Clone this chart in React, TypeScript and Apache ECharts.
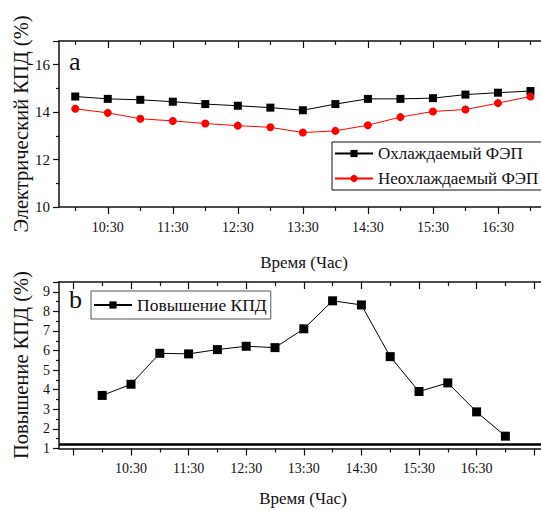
import React, { useEffect, useRef } from "react";
import * as echarts from "echarts";

// ---- data ----
const times = ["10:00", "10:30", "11:00", "11:30", "12:00", "12:30", "13:00", "13:30", "14:00", "14:30", "15:00", "15:30", "16:00", "16:30", "17:00"];
const cooledEff = [14.66, 14.56, 14.52, 14.44, 14.34, 14.27, 14.19, 14.08, 14.34, 14.56, 14.56, 14.59, 14.74, 14.82, 14.89];
const uncooledEff = [14.14, 13.97, 13.72, 13.63, 13.52, 13.43, 13.36, 13.14, 13.21, 13.45, 13.79, 14.03, 14.11, 14.38, 14.66];
const effGain = [3.71, 4.28, 5.86, 5.83, 6.05, 6.22, 6.15, 7.11, 8.54, 8.33, 5.69, 3.91, 4.35, 2.87, 1.63];
const gainRefLine = 1.24;

const xLabelTicks = ["10:30", "11:30", "12:30", "13:30", "14:30", "15:30", "16:30"];
const topLongTicks = ["10:30", "11:30", "12:30", "13:30", "14:30", "15:30", "16:30", "17:30"];
const topShortTicks = ["10:00", "11:00", "12:00", "13:00", "14:00", "15:00", "16:00", "17:00"];
const botLongTicks = ["9:30", "10:30", "11:30", "12:30", "13:30", "14:30", "15:30", "16:30", "17:30"];
const botShortTicks = ["10:00", "11:00", "12:00", "13:00", "14:00", "15:00", "16:00", "17:00"];
const topRange = ["9:45", "17:30"];
const botRange = ["9:15", "18:00"];

const nameCooled = "Охлаждаемый ФЭП";
const nameUncooled = "Неохлаждаемый ФЭП";
const nameGain = "Повышение КПД";

const FONT = "Liberation Serif, Times New Roman, serif";
const INK = "#111";

const toMin = (t: string) => {
  const [h, m] = t.split(":").map(Number);
  return h * 60 + m;
};
const fmt = (v: number) => {
  const h = Math.floor(v / 60);
  const m = Math.round(v - h * 60);
  return `${h}:${String(m).padStart(2, "0")}`;
};

function makeXAxes(grid: number, range: string[], longT: string[], shortT: string[]) {
  const min = toMin(range[0]);
  const max = toMin(range[1]);
  const base = { gridIndex: grid, type: "value", min, max, splitLine: { show: false } };
  const tickStyle = { color: INK, width: 1.2 };
  return [
    {
      ...base,
      position: "bottom",
      axisLine: { show: true, onZero: false, lineStyle: { color: INK, width: 1.5 } },
      axisTick: { show: true, inside: false, length: 7, customValues: longT.map(toMin), lineStyle: tickStyle },
      axisLabel: {
        show: true,
        customValues: xLabelTicks.map(toMin),
        formatter: (v: number) => fmt(v),
        margin: 13,
        fontSize: 14,
        fontFamily: FONT,
        color: INK,
      },
    },
    {
      ...base,
      position: "bottom",
      axisLine: { show: false, onZero: false },
      axisTick: { show: true, inside: false, length: 4, customValues: shortT.map(toMin), lineStyle: tickStyle },
      axisLabel: { show: false },
    },
    {
      ...base,
      position: "top",
      axisLine: { show: true, onZero: false, lineStyle: { color: INK, width: 1.5 } },
      axisTick: { show: true, inside: true, length: 7, customValues: longT.map(toMin), lineStyle: tickStyle },
      axisLabel: { show: false },
    },
    {
      ...base,
      position: "top",
      axisLine: { show: false, onZero: false },
      axisTick: { show: true, inside: true, length: 4, customValues: shortT.map(toMin), lineStyle: tickStyle },
      axisLabel: { show: false },
    },
  ];
}

export default function App() {
  const ref = useRef<HTMLDivElement>(null);
  useEffect(() => {
    if (!ref.current) return;
    const chart = echarts.init(ref.current, undefined, { renderer: "svg" });
    const xAxes = [
      ...makeXAxes(0, topRange, topLongTicks, topShortTicks),
      ...makeXAxes(1, botRange, botLongTicks, botShortTicks),
    ];
    const option: any = {
      animation: false,
      backgroundColor: "#fff",
      grid: [
        { left: 59, top: 41, width: 504, height: 166, containLabel: false, outerBoundsMode: "none" },
        { left: 59, top: 282, width: 504, height: 166.5, containLabel: false, outerBoundsMode: "none" },
      ],
      xAxis: xAxes,
      yAxis: [
        {
          gridIndex: 0,
          type: "value",
          min: 10,
          max: 17,
          interval: 2,
          axisLine: { show: true, lineStyle: { color: INK, width: 1.5 } },
          axisTick: { show: true, inside: false, length: 6, lineStyle: { color: INK, width: 1.2 } },
          minorTick: { show: true, splitNumber: 2, length: 3, lineStyle: { color: INK, width: 1.2 } },
          axisLabel: {
            formatter: (v: number) => (v % 2 === 0 ? String(v) : ""),
            margin: 9,
            fontSize: 15,
            fontFamily: FONT,
            color: INK,
          },
          splitLine: { show: false },
        },
        {
          gridIndex: 1,
          type: "value",
          min: 1,
          max: 9.5,
          interval: 1,
          axisLine: { show: true, lineStyle: { color: INK, width: 1.5 } },
          axisTick: { show: true, inside: false, length: 6, lineStyle: { color: INK, width: 1.2 } },
          minorTick: { show: true, splitNumber: 2, length: 3, lineStyle: { color: INK, width: 1.2 } },
          axisLabel: {
            formatter: (v: number) => (Number.isInteger(v) ? String(v) : ""),
            margin: 9,
            fontSize: 14,
            fontFamily: FONT,
            color: INK,
          },
          splitLine: { show: false },
        },
      ],
      legend: [
        {
          data: [nameCooled, nameUncooled],
          orient: "vertical",
          left: 332,
          top: 142,
          padding: [3, 30, 3, 2],
          borderColor: INK,
          borderWidth: 1,
          itemWidth: 38,
          itemHeight: 9,
          itemGap: 8,
          textStyle: { fontFamily: FONT, fontSize: 17, color: INK },
        },
        {
          data: [nameGain],
          left: 91,
          top: 291,
          padding: [5, 4, 5, 2],
          borderColor: "#555",
          borderWidth: 1,
          itemWidth: 38,
          itemHeight: 9,
          textStyle: { fontFamily: FONT, fontSize: 17.5, color: INK },
        },
      ],
      series: [
        {
          name: nameCooled,
          type: "line",
          xAxisIndex: 0,
          yAxisIndex: 0,
          data: times.map((t, i) => [toMin(t), cooledEff[i]]),
          symbol: "rect",
          symbolSize: 8,
          color: "#000",
          lineStyle: { color: "#000", width: 1 },
          itemStyle: { color: "#000" },
        },
        {
          name: nameUncooled,
          type: "line",
          xAxisIndex: 0,
          yAxisIndex: 0,
          data: times.map((t, i) => [toMin(t), uncooledEff[i]]),
          symbol: "circle",
          symbolSize: 8,
          color: "#ff0000",
          lineStyle: { color: "#ff0000", width: 1 },
          itemStyle: { color: "#ff0000" },
        },
        {
          name: nameGain,
          type: "line",
          xAxisIndex: 4,
          yAxisIndex: 1,
          data: times.map((t, i) => [toMin(t), effGain[i]]),
          symbol: "rect",
          symbolSize: 9,
          color: "#000",
          lineStyle: { color: "#000", width: 1 },
          itemStyle: { color: "#000" },
          markLine: {
            silent: true,
            symbol: ["none", "none"],
            label: { show: false },
            lineStyle: { color: "#000", width: 2.5, type: "solid" },
            data: [{ yAxis: gainRefLine }],
          },
        },
      ],
      graphic: [
        { type: "text", left: 69, top: 48, style: { text: "a", fontFamily: FONT, fontSize: 26, fill: INK } },
        { type: "text", left: 69, top: 286, style: { text: "b", fontFamily: FONT, fontSize: 26, fill: INK } },
        {
          type: "text",
          x: 21,
          y: 124,
          rotation: Math.PI / 2,
          style: { text: "Электрический КПД (%)", fontFamily: FONT, fontSize: 20.5, fill: INK, align: "center", verticalAlign: "middle" },
        },
        {
          type: "text",
          x: 21,
          y: 365,
          rotation: Math.PI / 2,
          style: { text: "Повышение КПД (%)", fontFamily: FONT, fontSize: 20.5, fill: INK, align: "center", verticalAlign: "middle" },
        },
        {
          type: "text",
          x: 304,
          y: 262,
          style: { text: "Время (Час)", fontFamily: FONT, fontSize: 17, fill: INK, align: "center", verticalAlign: "middle" },
        },
        {
          type: "text",
          x: 303,
          y: 498,
          style: { text: "Время (Час)", fontFamily: FONT, fontSize: 17, fill: INK, align: "center", verticalAlign: "middle" },
        },
      ],
    };
    chart.setOption(option);
    return () => chart.dispose();
  }, []);
  return <div ref={ref} style={{ position: "absolute", left: 0, top: 0, width: 541, height: 511 }} />;
}
